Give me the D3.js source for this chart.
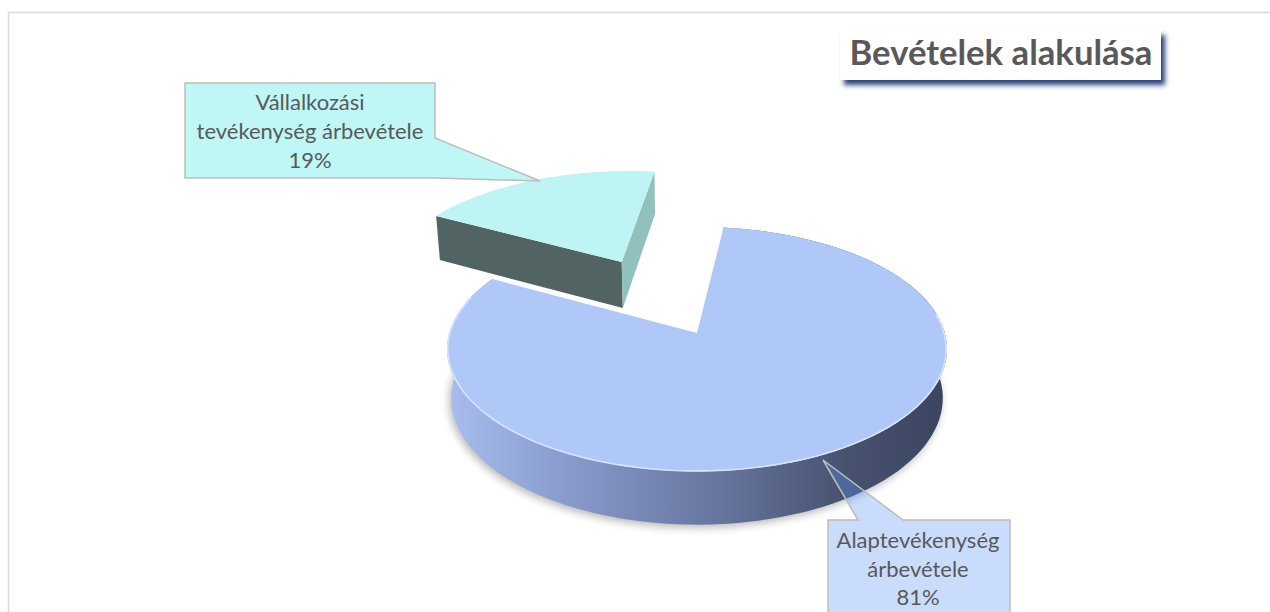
<!DOCTYPE html>
<html>
<head>
<meta charset="utf-8">
<script src="https://cdn.jsdelivr.net/npm/d3@7"></script>
<style>
  html, body { margin: 0; padding: 0; background: #ffffff; }
  svg { display: block; }
</style>
</head>
<body>
<svg id="chart" width="1270" height="612"></svg>
<script>
// ---------------- data ----------------
const categories = ["Alaptevékenység árbevétele", "Vállalkozási tevékenység árbevétele"];
const values = [81, 19];
const percentLabels = ["81%", "19%"];
const labelLines = [
  ["Alaptevékenység", "árbevétele"],
  ["Vállalkozási", "tevékenység árbevétele"]
];
const chartTitle = "Bevételek alakulása";
const explode = [0, 0.72];

// ---------------- styles / layout ----------------
const topColors  = ["#b0c8f8", "#bff4f4"];
const startFace  = ["#4d5f7e", "#516363"];
const endFace    = ["#5f72a0", "#92c0bd"];
const W = 1270, H = 612;

const svg = d3.select("#chart");
const defs = svg.append("defs");

// outer border
svg.append("rect")
  .attr("x", 8.5).attr("y", 12.5).attr("width", 1400).attr("height", 800)
  .attr("fill", "none").attr("stroke", "#d9d9d9").attr("stroke-width", 1.5);

// ---------------- 3D projection ----------------
const cx = 697, cy = 333;      // projected centre of the top face
const K = 247.8;               // px per radius at the centre depth
const alpha = 29 * Math.PI / 180;
const sinA = Math.sin(alpha), cosA = Math.cos(alpha);
const Dist = 6.626;            // camera distance in radii
const depth = 0.228;           // pie thickness in radii

function proj(x, y, z) {
  const yc = y * cosA - z * sinA;
  const d = Dist - (y * sinA + z * cosA);
  const f = Dist / d;
  return [cx + K * x * f, cy - K * yc * f];
}
function rimPoint(theta, r, y, ox, oz) {
  return proj(ox + r * Math.sin(theta), y, oz - r * Math.cos(theta));
}

const startAngle = 6.95 * Math.PI / 180;
const pie = d3.pie().sort(null).value(d => d)
  .startAngle(startAngle).endAngle(startAngle + 2 * Math.PI);
const arcs = pie(values);

const line = d3.line();
function arcPts(a0, a1, r, y, ox, oz, n) {
  const pts = [];
  for (let i = 0; i <= n; i++) {
    const t = a0 + (a1 - a0) * i / n;
    pts.push(rimPoint(t, r, y, ox, oz));
  }
  return pts;
}

// gradient for the curved wall
const grad = defs.append("linearGradient").attr("id", "wallGrad")
  .attr("gradientUnits", "userSpaceOnUse")
  .attr("x1", cx - K).attr("y1", 0).attr("x2", cx + K).attr("y2", 0);
[[0, "#a8bcee"], [0.25, "#8799cb"], [0.55, "#66759e"], [0.8, "#47526f"], [1, "#3b4560"]]
  .forEach(s => grad.append("stop").attr("offset", s[0]).attr("stop-color", s[1]));

// shadow filter
const shf = defs.append("filter").attr("id", "pieShadow")
  .attr("x", "-20%").attr("y", "-20%").attr("width", "140%").attr("height", "140%");
shf.append("feGaussianBlur").attr("stdDeviation", 4);

const titleF = defs.append("filter").attr("id", "titleShadow")
  .attr("x", "-10%").attr("y", "-30%").attr("width", "130%").attr("height", "180%");
titleF.append("feDropShadow").attr("dx", 4).attr("dy", 5).attr("stdDeviation", 2.5)
  .attr("flood-color", "#1f3a78").attr("flood-opacity", 0.95);

const pieG = svg.append("g");

// draw order: exploded (back) slice first, then main slice
const order = [1, 0];
order.forEach(i => {
  const a = arcs[i];
  const mid = (a.startAngle + a.endAngle) / 2;
  const e = explode[i];
  const ox = e * Math.sin(mid), oz = -e * Math.cos(mid);
  const g = pieG.append("g").attr("class", "slice");
  const n = 120;

  if (i === 0) {
    // soft shadow under the base
    const bottom = arcPts(a.startAngle, a.endAngle, 1.0, -depth, ox, oz, n);
    bottom.push(proj(ox, -depth, oz));
    g.append("path").attr("d", line(bottom.map(p => [p[0] - 2, p[1] + 3])) + "Z")
      .attr("fill", "#000").attr("opacity", 0.28).attr("filter", "url(#pieShadow)");
    // outer curved wall
    const topR = arcPts(a.startAngle, a.endAngle, 1, 0, ox, oz, n);
    const botR = arcPts(a.startAngle, a.endAngle, 1, -depth, ox, oz, n).reverse();
    g.append("path").attr("d", line(topR.concat(botR)) + "Z")
      .attr("fill", "url(#wallGrad)");
  } else {
    // radial faces facing the viewer
    const faceAt = (t) => [
      proj(ox, 0, oz), rimPoint(t, 1, 0, ox, oz),
      rimPoint(t, 1, -depth, ox, oz), proj(ox, -depth, oz)
    ];
    g.append("path").attr("d", line(faceAt(a.startAngle)) + "Z").attr("fill", startFace[i]);
    g.append("path").attr("d", line(faceAt(a.endAngle)) + "Z").attr("fill", endFace[i]);
  }
  // top face
  const topPts = [proj(ox, 0, oz)].concat(arcPts(a.startAngle, a.endAngle, 1, 0, ox, oz, n));
  g.append("path").attr("d", line(topPts) + "Z").attr("fill", topColors[i]);

  if (i === 0) {
    // light bevel along the front rim
    const lo = Math.max(a.startAngle, Math.PI * 0.45), hi = Math.min(a.endAngle, Math.PI * 1.6);
    g.append("path").attr("d", line(arcPts(lo, hi, 0.997, 0, ox, oz, 80)))
      .attr("fill", "none").attr("stroke", "#dde8ff").attr("stroke-width", 1.6).attr("opacity", 0.85);
  }
});

// ---------------- callouts ----------------
function fitFont(texts, refIndex, target) {
  const node = texts.nodes()[refIndex];
  const w = node.getComputedTextLength();
  const fs = parseFloat(d3.select(node).attr("font-size"));
  const nfs = fs * target / w;
  texts.attr("font-size", nfs);
}

// Vállalkozási callout (slice 1)
const c1 = svg.append("g");
c1.append("path")
  .attr("d", "M185,83 L435,83 L435,138 L540,181 L435,178 L185,178 Z")
  .attr("fill", "#bff6f6").attr("stroke", "#bdbdbd").attr("stroke-width", 1.5)
  .attr("stroke-linejoin", "miter");
const c1lines = labelLines[1].concat([percentLabels[1]]);
const t1 = c1.selectAll("text").data(c1lines).join("text")
  .attr("x", 310).attr("y", (d, j) => 110 + j * 29)
  .attr("text-anchor", "middle")
  .attr("font-family", "Lato, 'Open Sans', sans-serif")
  .attr("font-size", 20).attr("fill", "#595959")
  .text(d => d);
fitFont(t1, 1, 227);

// Alaptevékenység callout (slice 0)
const c0 = svg.append("g");
c0.append("path")
  .attr("d", "M828,520 L858,520 L823,460 L903,520 L1010,520 L1010,660 L828,660 Z")
  .attr("fill", "rgb(90,150,245)").attr("fill-opacity", 0.33)
  .attr("stroke", "#bdbdbd").attr("stroke-width", 1.5);
const c0lines = labelLines[0].concat([percentLabels[0]]);
const t0 = c0.selectAll("text").data(c0lines).join("text")
  .attr("x", 918).attr("y", (d, j) => 548 + j * 28.5)
  .attr("text-anchor", "middle")
  .attr("font-family", "Lato, 'Open Sans', sans-serif")
  .attr("font-size", 20).attr("fill", "#595959")
  .text(d => d);
fitFont(t0, 0, 163);

// ---------------- title ----------------
const tg = svg.append("g");
tg.append("rect").attr("x", 840).attr("y", 30).attr("width", 321).attr("height", 50)
  .attr("fill", "#ffffff").attr("filter", "url(#titleShadow)");
const tt = tg.append("text").attr("x", 1001).attr("y", 64.5)
  .attr("text-anchor", "middle")
  .attr("font-family", "Lato, 'Open Sans', sans-serif")
  .attr("font-weight", "bold").attr("font-size", 30).attr("fill", "#595959")
  .text(chartTitle);
fitFont(tt, 0, 303);
</script>
</body>
</html>
